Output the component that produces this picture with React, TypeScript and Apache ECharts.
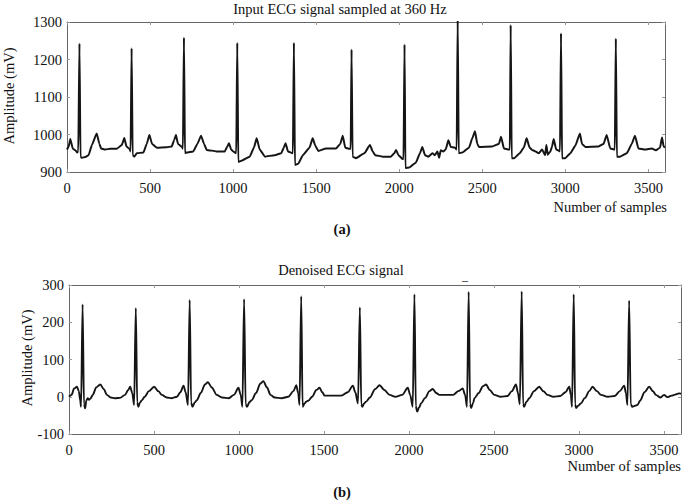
import React, { useEffect, useRef } from "react";
import * as echarts from "echarts";

// Tick values
const xTicks = [0, 500, 1000, 1500, 2000, 2500, 3000, 3500];
const inputTicks = [900, 1000, 1100, 1200, 1300];
const denoisedTicks = [-100, 0, 100, 200, 300];

// (a) Input ECG signal: [sample, amplitude mV]
const inputEcg: [number, number][] = [
  [0, 960], [10, 968], [20, 988], [35, 962], [50, 958], [62, 952], [68, 955], [75, 1243], [81, 940], [90, 938],
  [110, 940], [130, 945], [150, 972], [179, 1003], [195, 975], [205, 963], [230, 960], [260, 962], [300, 962],
  [330, 972], [345, 991], [358, 968], [375, 962], [383, 955], [389, 1230], [395, 945], [405, 941], [420, 950],
  [460, 952], [480, 975], [496, 999], [512, 975], [540, 965], [600, 966], [630, 968], [645, 985], [656, 999],
  [668, 975], [690, 968], [698, 962], [704, 1259], [710, 950], [720, 952], [760, 955], [785, 975], [807, 997],
  [825, 975], [841, 959], [900, 955], [950, 955], [965, 968], [975, 977], [988, 960], [1000, 955], [1019, 950],
  [1025, 1245], [1031, 927], [1050, 930], [1100, 941], [1125, 965], [1142, 990], [1160, 960], [1192, 941],
  [1250, 945], [1290, 950], [1305, 965], [1316, 977], [1330, 955], [1360, 950], [1366, 1245], [1372, 919],
  [1392, 922], [1420, 945], [1460, 965], [1479, 990], [1495, 970], [1513, 956], [1560, 963], [1620, 963],
  [1645, 975], [1660, 997], [1675, 965], [1700, 962], [1708, 962], [1713, 1227], [1719, 941], [1740, 937],
  [1790, 950], [1824, 972], [1840, 955], [1855, 945], [1900, 941], [1950, 941], [1970, 950], [1981, 959],
  [1995, 945], [2020, 935], [2026, 935], [2032, 1240], [2037, 911], [2060, 912], [2100, 925], [2125, 950],
  [2139, 967], [2155, 945], [2175, 941], [2200, 950], [2215, 945], [2230, 955], [2240, 938], [2250, 958],
  [2265, 955], [2280, 960], [2296, 985], [2310, 967], [2335, 965], [2346, 960], [2352, 1310], [2358, 950],
  [2380, 952], [2420, 965], [2440, 990], [2456, 1009], [2470, 975], [2480, 967], [2560, 968], [2600, 975],
  [2613, 994], [2630, 963], [2660, 960], [2666, 960], [2671, 1292], [2677, 937], [2693, 937], [2725, 950],
  [2750, 965], [2767, 990], [2785, 965], [2800, 959], [2820, 955], [2840, 950], [2860, 960], [2878, 945],
  [2886, 972], [2894, 946], [2910, 955], [2920, 968], [2930, 988], [2945, 960], [2968, 955], [2974, 1270],
  [2980, 937], [3000, 937], [3030, 950], [3060, 970], [3088, 1003], [3100, 975], [3120, 967], [3200, 968],
  [3230, 975], [3249, 999], [3270, 963], [3298, 960], [3304, 1256], [3310, 941], [3330, 941], [3370, 950],
  [3400, 975], [3419, 997], [3440, 963], [3480, 960], [3520, 963], [3545, 958], [3570, 965], [3582, 992],
  [3592, 968], [3600, 965],
];

// (b) Denoised ECG signal: [sample, amplitude mV]
const denoisedEcg: [number, number][] = [
  [0, 0], [15, 5], [30, 22], [47, 27], [58, 15], [66, -10], [71, -27], [80, 248], [88, -20], [95, -31],
  [102, -10], [110, -4], [118, -8], [126, -5], [140, 5], [160, 25], [184, 33], [205, 20], [223, 5], [245, -2],
  [270, -4], [300, -3], [330, 5], [348, 18], [360, 27], [372, 10], [383, -22], [393, 238], [401, -15],
  [408, -27], [418, -15], [429, -9], [445, 0], [470, 15], [501, 27], [525, 15], [546, 5], [575, -2],
  [605, -4], [635, 0], [655, 12], [674, 30], [686, 12], [700, -22], [710, 260], [718, -15], [726, -27],
  [740, -15], [752, -9], [775, 10], [800, 33], [817, 39], [840, 25], [869, 5], [900, -2], [940, -4],
  [970, 5], [997, 24], [1010, 5], [1020, -27], [1030, 262], [1039, -20], [1047, -27], [1062, -14],
  [1075, -9], [1100, 10], [1125, 35], [1143, 42], [1165, 25], [1185, 5], [1210, -2], [1250, -4], [1290, 0],
  [1320, 15], [1337, 31], [1348, 10], [1356, -22], [1366, 270], [1374, -27], [1386, -18], [1396, -13],
  [1410, -10], [1430, 0], [1455, 18], [1474, 24], [1490, 12], [1504, 3], [1540, 3], [1600, 3], [1640, 12],
  [1670, 30], [1684, 12], [1700, -18], [1711, 240], [1719, -20], [1725, -27], [1736, -18], [1748, -13],
  [1770, -2], [1800, 20], [1827, 31], [1855, 18], [1886, 5], [1920, 0], [1960, 5], [1993, 24], [2007, 5],
  [2022, -27], [2032, 275], [2040, -25], [2048, -40], [2060, -28], [2071, -18], [2095, -3], [2120, 15],
  [2140, 21], [2160, 10], [2179, 5], [2220, 5], [2260, 5], [2290, 15], [2316, 22], [2330, 5], [2341, -27],
  [2351, 282], [2359, -20], [2366, -30], [2378, -15], [2385, -4], [2410, 10], [2435, 28], [2453, 33],
  [2475, 18], [2502, 5], [2540, 0], [2580, 2], [2605, 15], [2629, 33], [2641, 10], [2652, -20], [2663, 283],
  [2671, -20], [2677, -27], [2690, -14], [2708, -4], [2735, 15], [2766, 27], [2790, 15], [2815, 5],
  [2850, 0], [2890, 2], [2920, 12], [2943, 27], [2952, 5], [2959, -27], [2969, 275], [2977, -20],
  [2983, -30], [2995, -24], [3011, -18], [3035, -3], [3060, 15], [3080, 27], [3105, 15], [3129, 5],
  [3170, 0], [3210, 2], [3240, 15], [3266, 30], [3276, 10], [3285, -22], [3295, 258], [3304, -20],
  [3314, -27], [3330, -24], [3344, -22], [3360, -10], [3385, 12], [3413, 27], [3435, 15], [3452, 5],
  [3480, -2], [3500, 5], [3520, -1], [3545, 3], [3560, 5], [3589, 9], [3600, 8],
];

const FONT = "Liberation Serif, Times New Roman, serif";
const FS = 14.5;

export default function App() {
  const ref = useRef<HTMLDivElement>(null);

  useEffect(() => {
    const chart = echarts.init(ref.current!, null, { renderer: "svg" });

    const plain = (v: number) => String(v);

    const xAxisFor = (gridIndex: number, position: "top" | "bottom", showLabels: boolean) => ({
      type: "value" as const,
      gridIndex,
      position,
      min: 0,
      max: 3600,
      interval: xTicks[1] - xTicks[0],
      axisLine: { show: true, onZero: false, lineStyle: { color: "#666", width: 1 } },
      axisTick: { show: true, inside: true, length: 3, lineStyle: { color: "#999" } },
      axisLabel: {
        show: showLabels,
        showMaxLabel: false,
        formatter: plain,
        color: "#111",
        fontFamily: FONT,
        fontSize: FS,
        margin: 8,
      },
      splitLine: { show: false },
    });

    const yAxisFor = (gridIndex: number, position: "left" | "right", ticks: number[], showLabels: boolean) => ({
      type: "value" as const,
      gridIndex,
      position,
      min: ticks[0],
      max: ticks[ticks.length - 1],
      interval: ticks[1] - ticks[0],
      axisLine: { show: true, onZero: false, lineStyle: { color: "#666", width: 1 } },
      axisTick: { show: true, inside: true, length: 3, lineStyle: { color: "#999" } },
      axisLabel: { show: showLabels, formatter: plain, color: "#111", fontFamily: FONT, fontSize: FS, margin: 5 },
      splitLine: { show: false },
    });

    const textStyle = (extra: any) => ({
      fontFamily: FONT,
      fontSize: FS,
      fill: "#111",
      ...extra,
    });

    chart.setOption({
      animation: false,
      backgroundColor: "#ffffff",
      grid: [
        { left: 67, top: 22, width: 598, height: 150, containLabel: false },
        { left: 69, top: 285, width: 612, height: 149, containLabel: false },
      ],
      xAxis: [
        xAxisFor(0, "bottom", true),
        xAxisFor(0, "top", false),
        xAxisFor(1, "bottom", true),
        xAxisFor(1, "top", false),
      ],
      yAxis: [
        yAxisFor(0, "left", inputTicks, true),
        yAxisFor(0, "right", inputTicks, false),
        yAxisFor(1, "left", denoisedTicks, true),
        yAxisFor(1, "right", denoisedTicks, false),
      ],
      series: [
        {
          type: "line",
          xAxisIndex: 0,
          yAxisIndex: 0,
          data: inputEcg,
          showSymbol: false,
          symbol: "none",
          clip: true,
          smooth: 0.15,
          smoothMonotone: "x",
          lineStyle: { color: "#151515", width: 2 },
        },
        {
          type: "line",
          xAxisIndex: 2,
          yAxisIndex: 2,
          data: denoisedEcg,
          showSymbol: false,
          symbol: "none",
          clip: true,
          smooth: 0.3,
          smoothMonotone: "x",
          lineStyle: { color: "#151515", width: 1.9 },
        },
      ],
      graphic: [
        {
          type: "text",
          x: 340,
          y: 9,
          style: textStyle({ text: "Input ECG signal sampled at 360 Hz", align: "center", verticalAlign: "middle" }),
        },
        {
          type: "text",
          x: 9,
          y: 96,
          rotation: Math.PI / 2,
          style: textStyle({ text: "Amplitude (mV)", align: "center", verticalAlign: "middle" }),
        },
        {
          type: "text",
          x: 667,
          y: 207,
          style: textStyle({ text: "Number of samples", align: "right", verticalAlign: "middle" }),
        },
        {
          type: "text",
          x: 342,
          y: 229,
          style: textStyle({ text: "(a)", align: "center", verticalAlign: "middle", fontWeight: "bold" }),
        },
        {
          type: "text",
          x: 341,
          y: 270,
          style: textStyle({ text: "Denoised ECG signal", align: "center", verticalAlign: "middle" }),
        },
        {
          type: "text",
          x: 465,
          y: 276,
          style: textStyle({ text: "_", align: "center", verticalAlign: "middle", fontSize: 12 }),
        },
        {
          type: "text",
          x: 27,
          y: 358,
          rotation: Math.PI / 2,
          style: textStyle({ text: "Amplitude (mV)", align: "center", verticalAlign: "middle" }),
        },
        {
          type: "text",
          x: 681,
          y: 466,
          style: textStyle({ text: "Number of samples", align: "right", verticalAlign: "middle" }),
        },
        {
          type: "text",
          x: 342,
          y: 492,
          style: textStyle({ text: "(b)", align: "center", verticalAlign: "middle", fontWeight: "bold" }),
        },
      ],
    });

    return () => chart.dispose();
  }, []);

  return (
    <div
      ref={ref}
      style={{ position: "fixed", left: 0, top: 0, width: 685, height: 502, background: "#fff" }}
    />
  );
}
